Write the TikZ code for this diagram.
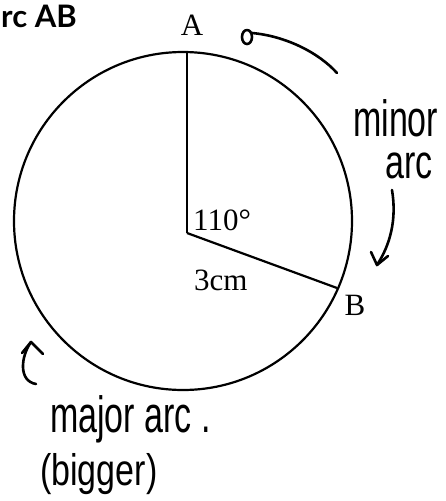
\documentclass[tikz,border=0pt]{standalone}
\usepackage{fontspec}
\usepackage{graphicx}
\setmainfont{Liberation Serif}
\newfontfamily\titlefont{Lato}
\newfontfamily\handfont{Liberation Sans}
\begin{document}
\begin{tikzpicture}[x=1pt,y=-1pt,
  geom/.style={line width=2.2pt},
  hand/.style={line width=2.6pt,line cap=round,line join=round},
  lbl/.style={inner sep=0pt,font=\fontsize{31}{31}\selectfont},
  handtxt/.style={inner sep=0pt,anchor=base west,font=\handfont\fontsize{34}{34}\selectfont}]
\useasboundingbox (0,0) rectangle (445,501);
% title
\node[inner sep=0pt,anchor=base west,font=\titlefont\bfseries\fontsize{31}{31}\selectfont] (title) at (1,27) {rc AB};
% circle
\coordinate (C) at (183,221);
\draw[geom] (C) circle[radius=169pt];
\coordinate (O) at (187,233);
\coordinate (Ap) at (187,52);
\coordinate (Bp) at (337,288);
\draw[geom] (O) -- (Ap);
\draw[geom] (O) -- (Bp);
% labels
\node[lbl,anchor=base] (A) at (192,35) {A};
\node[lbl,anchor=base] (B) at (355,315) {B};
\node[lbl,anchor=base west] (ang) at (193,230) {110°};
\node[lbl,anchor=base west] (len) at (194,290) {3cm};
% minor arc annotation
\coordinate (t0) at (252,33);
\coordinate (t1) at (337,73);
\draw[hand] (247,37) ellipse[x radius=5pt,y radius=7pt];
\draw[hand] (t0) .. controls (285,36) and (318,52) .. (t1);
\node[handtxt] (minor) at (353,136) {\scalebox{1}[1.5]{minor}};
\node[handtxt] (minarc) at (385,178) {\scalebox{1}[1.4]{arc}};
\coordinate (m0) at (392,190);
\coordinate (m1) at (377,265);
\draw[hand] (m0) .. controls (397,220) and (390,245) .. (m1);
\draw[hand] (371,252) -- (m1) -- (388,256);
% major arc annotation
\coordinate (j0) at (36,384);
\coordinate (j1) at (31,342);
\draw[hand] (j0) .. controls (18,381) and (21,356) .. (j1);
\draw[hand] (22,353) -- (j1) -- (43,354);
\node[handtxt] (major) at (50,432) {\scalebox{1}[1.5]{major arc .}};
\node[handtxt] (bigger) at (40,485) {\scalebox{1}[1.3]{(bigger)}};
\end{tikzpicture}
\end{document}
